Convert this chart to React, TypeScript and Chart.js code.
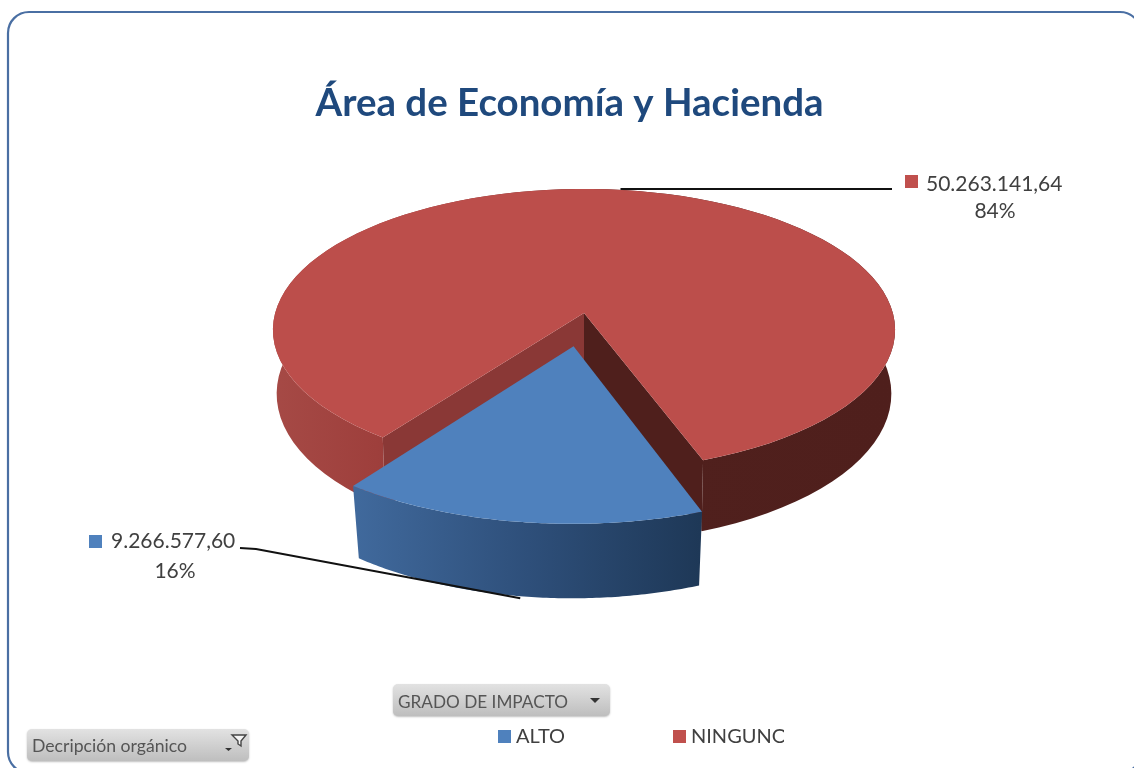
import React, { useEffect, useRef } from "react";
import { Chart, registerables } from "chart.js";

Chart.register(...registerables);

const CHART_TITLE = "Área de Economía y Hacienda";
const categories = ["ALTO", "NINGUNO"];
const seriesValues = [9266577.6, 50263141.64];
const sliceColors = ["#4F81BD", "#C0504D"];
const pivotFieldSeries = "GRADO DE IMPACTO";
const pivotFieldFilter = "Decripción orgánico";

const SANS = "Lato, 'Open Sans', sans-serif";
const K = 0.12; // perspective strength
const RX_SCALE = 1.103;
const RY_RATIO = 0.45;
const DEPTH = 63;
const BOTTOM_SHRINK = 0.988;
const EXPLODED_BOTTOM_SHRINK = 0.975;
const EXPLODED_GROW = 1.05;

function formatEs(v: number) {
  const [i, d] = v.toFixed(2).split(".");
  return i.replace(/\B(?=(\d{3})+(?!\d))/g, ".") + "," + d;
}

function roundRect(ctx: CanvasRenderingContext2D, x: number, y: number, w: number, h: number, r: number) {
  ctx.beginPath();
  ctx.roundRect(x, y, w, h, r);
}

const pie3d = {
  id: "pie3d",
  beforeDraw(chart: any) {
    const ctx: CanvasRenderingContext2D = chart.ctx;
    ctx.save();
    ctx.fillStyle = "#ffffff";
    ctx.fillRect(0, 0, chart.width, chart.height);
    ctx.strokeStyle = "#4A6FA3";
    ctx.lineWidth = 2.2;
    roundRect(ctx, 8, 12, 1133, 761, 21);
    ctx.stroke();
    ctx.fillStyle = "#1F497D";
    ctx.font = `bold 38.5px ${SANS}`;
    ctx.textAlign = "center";
    ctx.textBaseline = "middle";
    ctx.fillText(CHART_TITLE, 569.5, 104, 508);
    ctx.restore();
  },
  beforeDatasetDraw(chart: any) {
    const ctx: CanvasRenderingContext2D = chart.ctx;
    const arcs = chart.getDatasetMeta(0).data;
    const project = (arc: any, angle: number, radius: number, bottom: boolean) => {
      const Rx = arc.outerRadius * RX_SCALE;
      const Ry = Rx * RY_RATIO;
      const off = (arc.options.offset || 0) / arc.outerRadius;
      const grow = off > 0 ? EXPLODED_GROW : 1;
      const mid = (arc.startAngle + arc.endAngle) / 2;
      const u = Math.cos(angle) * radius * grow + Math.cos(mid) * off;
      const v = Math.sin(angle) * radius * grow + Math.sin(mid) * off;
      const s = 1 / (1 - K * v);
      let x = Rx * u * s;
      let y = Ry * v * s;
      if (bottom) {
        x *= off > 0 ? EXPLODED_BOTTOM_SHRINK : BOTTOM_SHRINK;
        y += DEPTH * s;
      }
      return { x: arc.x + x, y: arc.y + y };
    };
    const rim = (arc: any, bottom: boolean) => {
      const pts = [];
      const n = 96;
      for (let i = 0; i <= n; i++) {
        pts.push(project(arc, arc.startAngle + ((arc.endAngle - arc.startAngle) * i) / n, 1, bottom));
      }
      return pts;
    };
    const fillPoly = (pts: { x: number; y: number }[], fill: any) => {
      ctx.beginPath();
      pts.forEach((p, i) => (i ? ctx.lineTo(p.x, p.y) : ctx.moveTo(p.x, p.y)));
      ctx.closePath();
      ctx.fillStyle = fill;
      ctx.fill();
    };
    const [blue, red] = arcs;
    ctx.save();

    // Red slice: outer wall, the two cut walls, then the top
    const redTop = rim(red, false);
    const redBot = rim(red, true);
    const redWall = ctx.createLinearGradient(270, 0, 900, 0);
    redWall.addColorStop(0, "#A64A46");
    redWall.addColorStop(0.17, "#9E3F3C");
    redWall.addColorStop(0.3, "#8A3533");
    redWall.addColorStop(0.62, "#50201D");
    redWall.addColorStop(1, "#4F1F1C");
    fillPoly([...redTop, ...[...redBot].reverse()], redWall);
    const apexT = project(red, 0, 0, false);
    const apexB = project(red, 0, 0, true);
    fillPoly([apexT, redTop[redTop.length - 1], redBot[redBot.length - 1], apexB], "#4F1F1C");
    fillPoly([apexT, redTop[0], redBot[0], apexB], "#8A3836");
    fillPoly([apexT, ...redTop], "#BC4E4B");

    // Blue exploded slice: outer wall, then the top
    const blueTop = rim(blue, false);
    const blueBot = rim(blue, true);
    const blueWall = ctx.createLinearGradient(357, 0, 700, 0);
    blueWall.addColorStop(0, "#40699C");
    blueWall.addColorStop(0.5, "#2E4F7A");
    blueWall.addColorStop(1, "#1E3857");
    fillPoly([...blueTop, ...[...blueBot].reverse()], blueWall);
    const bApex = project(blue, 0, 0, false);
    fillPoly([bApex, ...blueTop], "#4F81BD");

    // Leader lines, anchored at each slice's mid angle
    const redMid = project(red, (red.startAngle + red.endAngle) / 2, 1, false);
    const blueMid = project(blue, (blue.startAngle + blue.endAngle) / 2, 1, true);
    ctx.strokeStyle = "#111111";
    ctx.lineWidth = 2;
    ctx.beginPath();
    ctx.moveTo(redMid.x - 2, redMid.y - 1);
    ctx.lineTo(892, redMid.y - 1);
    ctx.stroke();
    ctx.beginPath();
    ctx.moveTo(240, 548);
    ctx.lineTo(256, 549);
    ctx.lineTo(blueMid.x, blueMid.y + 2);
    ctx.stroke();
    ctx.restore();
    return false;
  },
  afterDraw(chart: any) {
    const ctx: CanvasRenderingContext2D = chart.ctx;
    const total = seriesValues.reduce((a, b) => a + b, 0);
    ctx.save();
    // Data labels
    const label = (i: number, sx: number, sy: number, tx: number, ty: number, pctX: number, pctY: number, w: number) => {
      ctx.fillStyle = sliceColors[i];
      ctx.fillRect(sx, sy, 13, 13);
      ctx.fillStyle = "#404040";
      ctx.font = `21px ${SANS}`;
      ctx.textAlign = "left";
      ctx.textBaseline = "middle";
      ctx.fillText(formatEs(seriesValues[i]), tx, ty, w);
      ctx.textAlign = "center";
      ctx.fillText(Math.round((seriesValues[i] / total) * 100) + "%", pctX, pctY);
    };
    label(1, 905, 175, 926, 184, 995, 211, 138);
    label(0, 89, 535, 111, 541, 175, 571, 126);

    // Pivot field buttons
    const button = (x: number, y: number, w: number, h: number) => {
      const g = ctx.createLinearGradient(0, y, 0, y + h);
      g.addColorStop(0, "#E2E2E2");
      g.addColorStop(1, "#BEBEBE");
      ctx.save();
      ctx.shadowColor = "rgba(0,0,0,0.25)";
      ctx.shadowBlur = 2;
      ctx.shadowOffsetY = 1;
      ctx.fillStyle = g;
      roundRect(ctx, x, y, w, h, 5);
      ctx.fill();
      ctx.restore();
    };
    button(393, 684, 217, 32);
    button(27, 729, 222, 32);
    ctx.fillStyle = "#555555";
    ctx.textAlign = "left";
    ctx.textBaseline = "middle";
    ctx.font = `18px ${SANS}`;
    ctx.fillText(pivotFieldSeries, 398, 702, 170);
    ctx.fillText(pivotFieldFilter, 32, 746, 155);
    ctx.fillStyle = "#333333";
    ctx.beginPath();
    ctx.moveTo(590, 698);
    ctx.lineTo(600, 698);
    ctx.lineTo(595, 703);
    ctx.closePath();
    ctx.fill();
    ctx.beginPath();
    ctx.moveTo(225, 748);
    ctx.lineTo(232, 748);
    ctx.lineTo(228.5, 751);
    ctx.closePath();
    ctx.fill();
    // Funnel
    ctx.fillStyle = "#F4F4F4";
    ctx.strokeStyle = "#444444";
    ctx.lineWidth = 1.4;
    ctx.beginPath();
    ctx.moveTo(232, 735);
    ctx.lineTo(246, 735);
    ctx.lineTo(241, 741);
    ctx.lineTo(241, 746);
    ctx.lineTo(238, 744);
    ctx.lineTo(238, 741);
    ctx.closePath();
    ctx.fill();
    ctx.stroke();

    // Legend
    const legendX = [498, 673];
    categories.forEach((c, i) => {
      ctx.fillStyle = sliceColors[i];
      ctx.fillRect(legendX[i], 730, 13, 13);
      ctx.save();
      ctx.beginPath();
      ctx.rect(legendX[i], 720, 111, 36);
      ctx.clip();
      ctx.fillStyle = "#404040";
      ctx.font = `20px ${SANS}`;
      ctx.textAlign = "left";
      ctx.textBaseline = "middle";
      ctx.fillText(c, legendX[i] + 18, 737);
      ctx.restore();
    });
    ctx.restore();
  },
};

export default function App() {
  const ref = useRef<HTMLCanvasElement>(null);
  useEffect(() => {
    const chart = new Chart(ref.current as HTMLCanvasElement, {
      type: "pie",
      data: {
        labels: categories,
        datasets: [{ data: seriesValues, backgroundColor: sliceColors, borderWidth: 0, offset: [66, 0] }],
      },
      options: {
        animation: false,
        responsive: false,
        rotation: 160,
        layout: { padding: { left: 271, right: 237, top: 0, bottom: 142 } },
        plugins: { legend: { display: false }, tooltip: { enabled: false }, title: { display: false } },
      },
      plugins: [pie3d],
    } as any);
    return () => chart.destroy();
  }, []);
  return (
    <canvas
      ref={ref}
      width={1134}
      height={768}
      style={{ position: "fixed", left: 0, top: 0, width: 1134, height: 768, filter: "blur(0.5px)" }}
    />
  );
}
